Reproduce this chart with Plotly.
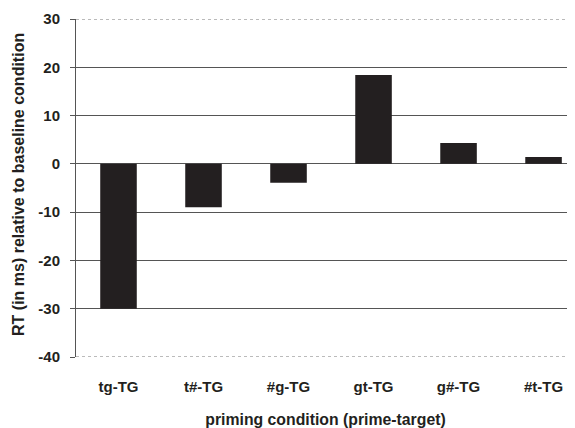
import plotly.graph_objects as go

categories = ["tg-TG", "t#-TG", "#g-TG", "gt-TG", "g#-TG", "#t-TG"]
values = [-30.0, -9.0, -3.9, 18.4, 4.3, 1.4]
y_ticks = [-40, -30, -20, -10, 0, 10, 20, 30]

font = "Liberation Sans, Arial, Helvetica, sans-serif"

fig = go.Figure()
fig.add_trace(go.Bar(x=list(range(len(categories))), y=values,
                     marker=dict(color="#231f20", line=dict(width=0)),
                     width=0.43))

# page has an 8px body margin; compensate
fig.update_layout(
    width=567, height=420,
    margin=dict(l=68, r=0, t=11, b=71),
    paper_bgcolor="white", plot_bgcolor="white",
    showlegend=False,
    font=dict(family=font, color="#231f20"),
)
fig.update_xaxes(
    range=[-0.5, 5.37], automargin=False,
    tickmode="array", tickvals=list(range(len(categories))),
    ticktext=[f"<b>{c}</b>" for c in categories],
    tickfont=dict(size=15, family=font, color="#231f20"),
    showgrid=False, zeroline=False, showline=False, ticks="",
    ticklabelstandoff=19,
    title=dict(text="<b>priming condition (prime-target)</b>", font=dict(size=15.8, family=font), standoff=19),
)
fig.update_yaxes(
    range=[-40, 30], automargin=False,
    tickmode="array", tickvals=y_ticks, ticktext=[f"<b>{v}</b>" for v in y_ticks],
    tickfont=dict(size=15, family=font, color="#231f20"),
    showgrid=True, gridcolor="#555555", gridwidth=1,
    zeroline=True, zerolinecolor="#555555", zerolinewidth=1,
    showline=True, linecolor="#555555", linewidth=1,
    ticks="outside", ticklen=5, tickcolor="#555555",
    ticklabelstandoff=7,
)
fig.add_annotation(
    text="<b>RT (in ms) relative to baseline condition</b>",
    xref="paper", yref="paper", x=-0.1142, y=0.509,
    xanchor="center", yanchor="middle", textangle=-90, showarrow=False,
    font=dict(size=16, family=font, color="#231f20"),
)
# dotted frame top and bottom
for yv in [30, -40]:
    fig.add_shape(type="line", xref="paper", yref="y", x0=0, x1=1, y0=yv, y1=yv,
                  line=dict(color="#777777", width=1, dash="dot"))

fig.write_html("out.html")
